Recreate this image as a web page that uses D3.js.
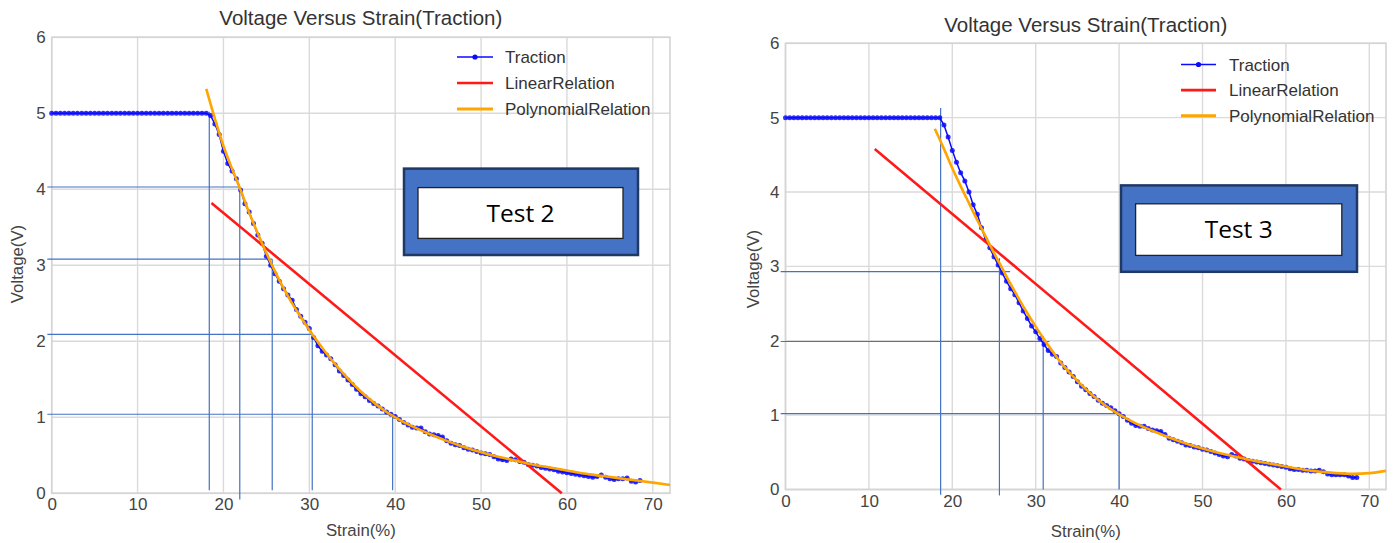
<!DOCTYPE html>
<html><head><meta charset="utf-8">
<script src="https://cdn.jsdelivr.net/npm/d3@7"></script>
<style>body{margin:0;background:#fff;} svg{display:block;}</style>
</head><body><svg id="c" width="1393" height="543"></svg>
<script>
const FONT = "'Liberation Sans', Arial, sans-serif";
const chartTitle = "Voltage Versus Strain(Traction)";
const xLabel = "Strain(%)";
const yLabel = "Voltage(V)";
const xTicks = [0,10,20,30,40,50,60,70];
const yTicks = [0,1,2,3,4,5,6];
const legendLabels = ["Traction","LinearRelation","PolynomialRelation"];
const testLabels = ["Test 2","Test 3"];

// strain sample positions (%) of the Traction measurements
const strainSamples = [0,0.5,1,1.5,2,2.5,3,3.5,4,4.5,5,5.5,6,6.5,7,7.5,8,8.5,9,9.5,10,10.5,11,11.5,12,12.5,13,13.5,14,14.5,15,15.5,16,16.5,17,17.5,18,18.5,19,19.5,20,20.5,21,21.5,22,22.5,23,23.5,24,24.5,25,25.5,26,26.5,27,27.5,28,28.5,29,29.5,30,30.5,31,31.5,32,32.5,33,33.5,34,34.5,35,35.5,36,36.5,37,37.5,38,38.5,39,39.5,40,40.5,41,41.5,42,42.5,43,43.5,44,44.5,45,45.5,46,46.5,47,47.5,48,48.5,49,49.5,50,50.5,51,51.5,52,52.5,53,53.5,54,54.5,55,55.5,56,56.5,57,57.5,58,58.5,59,59.5,60,60.5,61,61.5,62,62.5,63,63.5,64,64.5,65,65.5,66,66.5,67,67.5,68,68.5];

// ---- Test 2 ----
const voltageTest2 = [5,5,5,5,5,5,5,5,5,5,5,5,5,5,5,5,5,5,5,5,5,5,5,5,5,5,5,5,5,5,5,5,5,5,5,5,5,
4.97,4.86,4.72,4.50,4.34,4.24,4.14,3.99,3.81,3.70,3.55,3.40,3.29,3.12,3.00,2.89,2.79,2.69,2.61,2.54,
2.42,2.33,2.25,2.17,2.05,1.94,1.87,1.82,1.77,1.69,1.61,1.55,1.49,1.43,1.37,1.31,1.27,1.22,1.18,1.15,
1.11,1.07,1.04,1.01,0.97,0.93,0.90,0.87,0.86,0.86,0.81,0.78,0.77,0.76,0.74,0.69,0.66,0.64,0.63,0.60,
0.58,0.57,0.55,0.53,0.52,0.51,0.48,0.45,0.44,0.43,0.45,0.44,0.42,0.41,0.38,0.37,0.36,0.34,0.33,0.32,
0.31,0.29,0.28,0.27,0.26,0.25,0.24,0.23,0.22,0.21,0.22,0.24,0.21,0.19,0.18,0.19,0.19,0.20,0.16,0.15,
0.17];
const linearXTest2 = [18.6, 59.4];
const linearYTest2 = [3.82, 0];
const polyXTest2 = [18,19,20,21,22,23,24,25,26,27,28,29,30,31,32,33,34,35,36,37,38,39,40,42,44,46,48,50,52,54,56,58,60,62,64,66,68,70,72];
const polyYTest2 = [5.32,4.93,4.57,4.27,3.99,3.69,3.42,3.16,2.92,2.70,2.50,2.32,2.15,1.99,1.84,1.70,1.57,1.45,1.34,1.24,1.15,1.07,1.00,0.88,0.78,0.69,0.61,0.54,0.48,0.43,0.38,0.34,0.30,0.26,0.23,0.20,0.17,0.14,0.11];
const vGuideXTest2 = [18.35, 21.9, 25.68, 30.34, 39.7];
const vGuideTopTest2 = [5.02, 4.03, 3.08, 2.09, 1.04];
const vGuideBottomTest2 = [0.04, -0.08, 0.04, 0.04, 0.04];
const hGuideYTest2 = [4.03, 3.08, 2.09, 1.04];
const hGuideEndTest2 = [21.9, 25.68, 30.34, 39.7];

// ---- Test 3 ----
const voltageTest3 = [5,5,5,5,5,5,5,5,5,5,5,5,5,5,5,5,5,5,5,5,5,5,5,5,5,5,5,5,5,5,5,5,5,5,5,5,5,5,
4.90,4.74,4.56,4.40,4.26,4.15,4.00,3.83,3.70,3.52,3.36,3.25,3.13,3.02,2.91,2.80,2.70,2.62,2.51,2.40,
2.30,2.20,2.12,2.03,1.95,1.87,1.82,1.79,1.70,1.64,1.58,1.52,1.45,1.39,1.34,1.29,1.25,1.20,1.16,1.13,
1.10,1.06,1.02,0.98,0.93,0.89,0.86,0.85,0.85,0.82,0.80,0.79,0.78,0.74,0.69,0.67,0.65,0.63,0.60,0.59,
0.57,0.56,0.54,0.53,0.51,0.49,0.47,0.45,0.44,0.47,0.45,0.42,0.41,0.39,0.38,0.37,0.36,0.35,0.34,0.33,
0.32,0.31,0.30,0.28,0.27,0.27,0.26,0.26,0.25,0.25,0.26,0.24,0.21,0.20,0.20,0.20,0.20,0.18,0.16,0.16];
const linearXTest3 = [10.7, 59.4];
const linearYTest3 = [4.58, 0];
const polyXTest3 = [17.9,19,20,21,22,23,24,25,26,27,28,29,30,31,32,33,34,35,36,37,38,39,40,42,44,46,48,50,52,54,56,58,60,62,64,66,68,70,72];
const polyYTest3 = [4.85,4.58,4.32,4.08,3.85,3.62,3.40,3.18,2.97,2.76,2.56,2.37,2.19,2.02,1.86,1.71,1.58,1.46,1.35,1.25,1.16,1.08,1.01,0.89,0.79,0.70,0.62,0.55,0.49,0.44,0.39,0.35,0.31,0.27,0.24,0.22,0.21,0.22,0.25];
const vGuideXTest3 = [18.6, 25.65, 30.9, 40.0];
const vGuideTopTest3 = [5.13, 3.11, 2.06, 1.02];
const vGuideBottomTest3 = [-0.07, -0.08, 0.0, 0.0];
const hGuideYTest3 = [2.93, 1.99, 1.02];
const hGuideEndTest3 = [26.93, 31.65, 40.0];

const charts = [
  { label: testLabels[0], strain: strainSamples, volt: voltageTest2,
    linX: linearXTest2, linY: linearYTest2, polyX: polyXTest2, polyY: polyYTest2,
    vgX: vGuideXTest2, vgTop: vGuideTopTest2, vgBot: vGuideBottomTest2,
    hgY: hGuideYTest2, hgEnd: hGuideEndTest2, hgStart: -0.51,
    L: { left: 51.7, right: 670, top: 37.3, bottom: 493.3, titleY: 17.3, xLabY: 530, yLabX: 17.4, yLabY: 264,
         legX: 457, legW: 36, legTxt: 505, legY: 57, legDY: 26,
         box: [404, 168.6, 638, 255], inner: [418, 187.6, 623, 238.4] } },
  { label: testLabels[1], strain: strainSamples, volt: voltageTest3,
    linX: linearXTest3, linY: linearYTest3, polyX: polyXTest3, polyY: polyYTest3,
    vgX: vGuideXTest3, vgTop: vGuideTopTest3, vgBot: vGuideBottomTest3,
    hgY: hGuideYTest3, hgEnd: hGuideEndTest3, hgStart: -0.58,
    L: { left: 785.5, right: 1386, top: 43.3, bottom: 489.5, titleY: 25, xLabY: 531, yLabX: 753, yLabY: 269,
         legX: 1181, legW: 35, legTxt: 1229, legY: 64.5, legDY: 25.6,
         box: [1121, 185.4, 1357, 271.8], inner: [1135.6, 203.8, 1341.8, 255.4] } }
];

const svg = d3.select("#c");
const BLUE = "#0a0aff", RED = "#ff1a1a", ORANGE = "#ffa500", GUIDE = "#4472c4";

charts.forEach(c => {
  const L = c.L;
  const x = d3.scaleLinear().domain([0, 72]).range([L.left, L.right]);
  const y = d3.scaleLinear().domain([0, 6]).range([L.bottom, L.top]);
  const g = svg.append("g");

  // gridlines
  g.append("g").selectAll("line").data(xTicks).join("line")
    .attr("x1", d => x(d)).attr("x2", d => x(d)).attr("y1", L.top).attr("y2", L.bottom)
    .attr("stroke", "#dadada").attr("stroke-width", 1.4);
  g.append("g").selectAll("line").data(yTicks).join("line")
    .attr("x1", L.left).attr("x2", L.right).attr("y1", d => y(d)).attr("y2", d => y(d))
    .attr("stroke", "#dadada").attr("stroke-width", 1.4);
  g.append("rect").attr("x", L.left).attr("y", L.top)
    .attr("width", L.right - L.left).attr("height", L.bottom - L.top)
    .attr("fill", "none").attr("stroke", "#d4d4d4").attr("stroke-width", 1.6);

  // axes tick labels
  const xa = g.append("g").attr("transform", `translate(0,${L.bottom})`)
    .call(d3.axisBottom(x).tickValues(xTicks).tickSize(0).tickPadding(5).tickFormat(d3.format("d")));
  xa.attr("font-size", 17).attr("font-family", FONT);
  xa.select(".domain").remove();
  xa.selectAll("text").attr("fill", "#444");
  const ya = g.append("g").attr("transform", `translate(${L.left},0)`)
    .call(d3.axisLeft(y).tickValues(yTicks).tickSize(0).tickPadding(6).tickFormat(d3.format("d")));
  ya.attr("font-size", 17).attr("font-family", FONT);
  ya.select(".domain").remove();
  ya.selectAll("text").attr("fill", "#444");

  // title & axis labels
  g.append("text").attr("x", (L.left + L.right) / 2).attr("y", L.titleY).attr("dy", "0.36em")
    .attr("text-anchor", "middle").attr("font-family", FONT).attr("font-size", 20.5).attr("fill", "#333")
    .text(chartTitle);
  g.append("text").attr("x", (L.left + L.right) / 2).attr("y", L.xLabY).attr("dy", "0.36em")
    .attr("text-anchor", "middle").attr("font-family", FONT).attr("font-size", 16.8).attr("fill", "#444")
    .text(xLabel);
  g.append("text").attr("transform", `translate(${L.yLabX},${L.yLabY}) rotate(-90)`).attr("dy", "0.36em")
    .attr("text-anchor", "middle").attr("font-family", FONT).attr("font-size", 16.8).attr("fill", "#444")
    .text(yLabel);

  // guide lines
  const gg = g.append("g").attr("stroke", GUIDE).attr("stroke-width", 1.2);
  gg.selectAll("line.v").data(c.vgX).join("line").attr("class", "v")
    .attr("x1", d => x(d)).attr("x2", d => x(d))
    .attr("y1", (d, i) => y(c.vgTop[i])).attr("y2", (d, i) => y(c.vgBot[i]));
  gg.selectAll("line.h").data(c.hgY).join("line").attr("class", "h")
    .attr("x1", x(c.hgStart)).attr("x2", (d, i) => x(c.hgEnd[i]))
    .attr("y1", d => y(d)).attr("y2", d => y(d));

  // traction series
  const pts = c.strain.map((s, i) => [s, c.volt[i]]);
  const line = d3.line().x(d => x(d[0])).y(d => y(d[1]));
  g.append("path").datum(pts).attr("d", line).attr("fill", "none")
    .attr("stroke", BLUE).attr("stroke-width", 1.5);
  g.append("g").selectAll("circle").data(pts).join("circle")
    .attr("cx", d => x(d[0])).attr("cy", d => y(d[1])).attr("r", 2.5)
    .attr("fill", BLUE).attr("fill-opacity", 0.85);

  // linear relation
  const lin = c.linX.map((s, i) => [s, c.linY[i]]);
  g.append("path").datum(lin).attr("d", line).attr("fill", "none")
    .attr("stroke", RED).attr("stroke-width", 2.6);

  // polynomial relation
  const poly = c.polyX.map((s, i) => [s, c.polyY[i]]);
  g.append("path").datum(poly).attr("d", d3.line().curve(d3.curveMonotoneX).x(d => x(d[0])).y(d => y(d[1])))
    .attr("fill", "none").attr("stroke", ORANGE).attr("stroke-width", 2.6);

  // legend
  const lg = g.append("g");
  const styles = [{ col: BLUE, w: 1.5, dot: true }, { col: RED, w: 2.6 }, { col: ORANGE, w: 3 }];
  legendLabels.forEach((lab, i) => {
    const yy = L.legY + i * L.legDY;
    lg.append("line").attr("x1", L.legX).attr("x2", L.legX + L.legW).attr("y1", yy).attr("y2", yy)
      .attr("stroke", styles[i].col).attr("stroke-width", styles[i].w);
    if (styles[i].dot) lg.append("circle").attr("cx", L.legX + L.legW / 2).attr("cy", yy).attr("r", 2.6).attr("fill", BLUE);
    lg.append("text").attr("x", L.legTxt).attr("y", yy).attr("dy", "0.36em")
      .attr("font-family", FONT).attr("font-size", 17).attr("fill", "#333").text(lab);
  });

  // test label box
  const b = L.box, n = L.inner;
  g.append("rect").attr("x", b[0]).attr("y", b[1]).attr("width", b[2] - b[0]).attr("height", b[3] - b[1])
    .attr("fill", "#4472c4").attr("stroke", "#1f3864").attr("stroke-width", 2.5);
  g.append("rect").attr("x", n[0]).attr("y", n[1]).attr("width", n[2] - n[0]).attr("height", n[3] - n[1])
    .attr("fill", "#fff").attr("stroke", "#222").attr("stroke-width", 1.3);
  g.append("text").attr("x", (n[0] + n[2]) / 2).attr("y", (n[1] + n[3]) / 2).attr("dy", "0.36em")
    .attr("text-anchor", "middle").attr("font-family", "'Open Sans', 'Liberation Sans', sans-serif")
    .attr("font-size", 24.5).attr("fill", "#000").text(c.label);
});
</script>
</body></html>
